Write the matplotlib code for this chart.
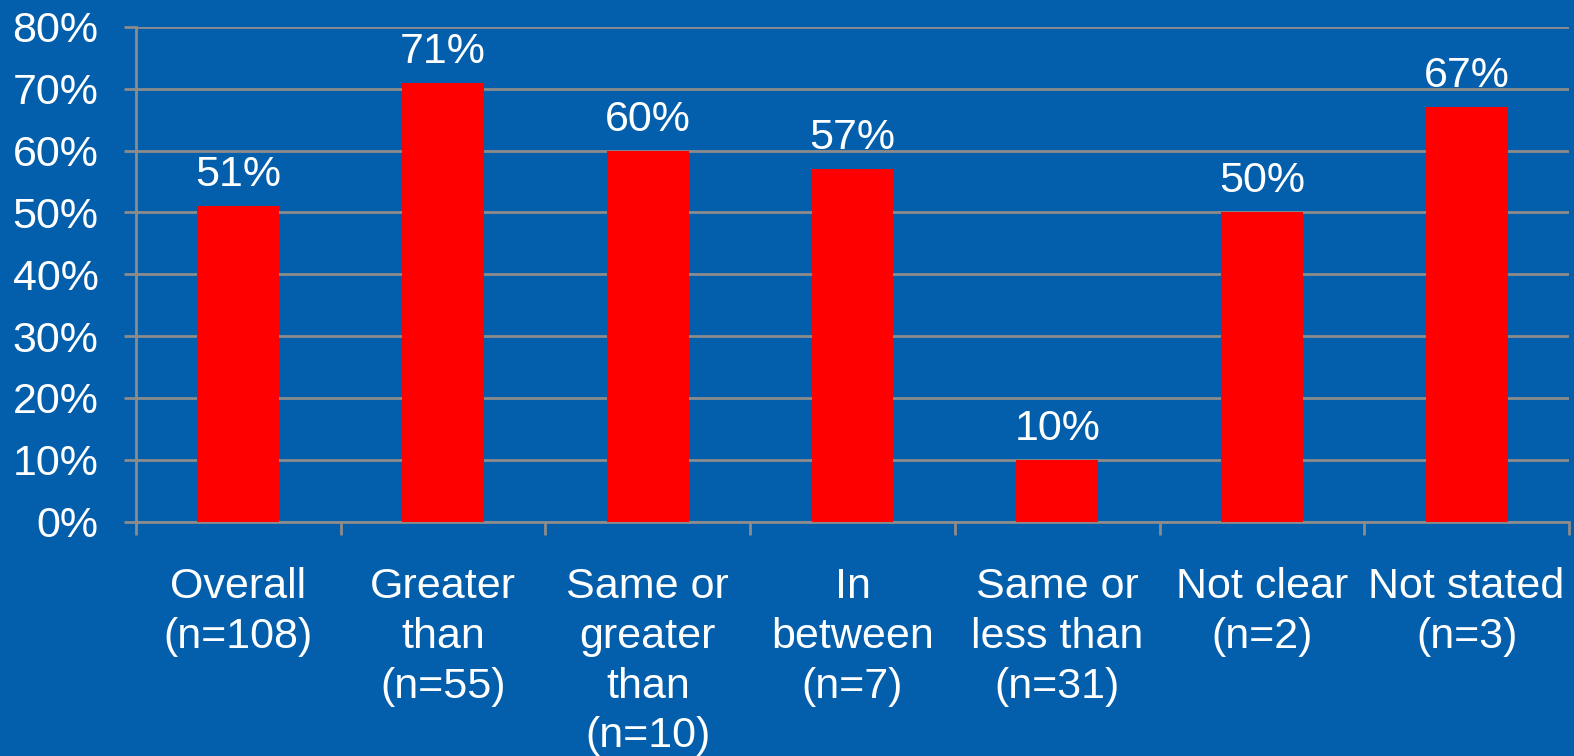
import matplotlib.pyplot as plt
import numpy as np

plt.rcParams['font.family'] = ['Liberation Sans', 'DejaVu Sans']

categories = ['Overall\n(n=108)', 'Greater\nthan\n(n=55)', 'Same or\ngreater\nthan\n(n=10)',
              'In\nbetween\n(n=7)', 'Same or\nless than\n(n=31)', 'Not clear\n(n=2)', 'Not stated\n(n=3)']
values = [51, 71, 60, 57, 10, 50, 67]
yticks = [0, 10, 20, 30, 40, 50, 60, 70, 80]

bg = '#035EAC'
grid = '#8C8C8C'
fs = 31

fig = plt.figure(figsize=(15.74, 7.56), dpi=100, facecolor=bg)
ax = fig.add_axes([0.0864, 0.310, 0.9104, 0.6543], facecolor=bg)

x = np.arange(len(values))
bars = ax.bar(x, values, width=0.4, color='#FF0000', zorder=3)
for b, v in zip(bars, values):
    ax.annotate('{}%'.format(v), (b.get_x() + b.get_width() / 2, v),
                xytext=(0, 8), textcoords='offset points',
                ha='center', va='bottom', color='white', fontsize=fs)

ax.set_xlim(-0.5, len(values) - 0.5)
ax.set_ylim(0, 80)
ax.set_yticks(yticks)
ax.set_yticklabels(['{}%'.format(t) for t in yticks])
ax.yaxis.grid(True, color=grid, linewidth=2, zorder=0)

# category boundaries as x ticks, labels centred between them
ax.set_xticks(np.arange(len(values) + 1) - 0.5)
ax.set_xticklabels([])
ax.set_xticks(x, minor=True)
ax.set_xticklabels(categories, minor=True, linespacing=1.31)
ax.tick_params(axis='x', which='minor', length=0, pad=33, labelsize=fs, labelcolor='white')
ax.tick_params(axis='x', which='major', length=9, width=2, color=grid)
ax.tick_params(axis='y', length=9, width=2, color=grid, labelsize=fs, labelcolor='white', pad=18)

for s in ['top', 'right']:
    ax.spines[s].set_visible(False)
for s in ['left', 'bottom']:
    ax.spines[s].set_color(grid)
    ax.spines[s].set_linewidth(2)

fig.savefig('out.png', dpi=100, facecolor=bg)
